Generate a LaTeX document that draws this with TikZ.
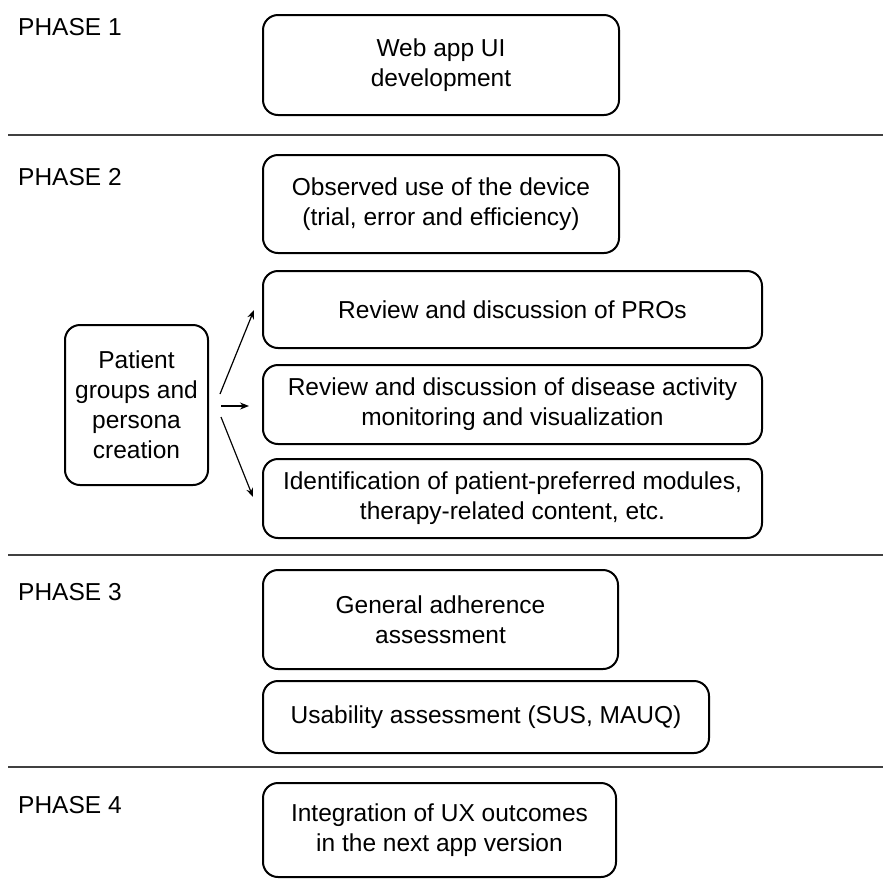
\documentclass[tikz,border=0pt]{standalone}
\usepackage{fontspec}
\setmainfont{Liberation Sans}
\usetikzlibrary{arrows.meta}
\begin{document}
\begin{tikzpicture}[x=1pt,y=-1pt,
  box/.style={draw, line width=2pt, rounded corners=15pt, align=center, inner sep=0pt,
    font=\fontsize{24.5}{30}\selectfont},
  phase/.style={anchor=west, inner sep=0pt, font=\fontsize{24.5}{30}\selectfont},
  sep/.style={line width=1.6pt, draw=black!75},
  arr/.style={line width=1.2pt, -{Stealth[length=9pt,width=7pt]}}]
\useasboundingbox (0,0) rectangle (883,879);
\node[phase] (p1) at (18,27) {PHASE 1};
\node[phase] (p2) at (18,177) {PHASE 2};
\node[phase] (p3) at (18,592) {PHASE 3};
\node[phase] (p4) at (18,805) {PHASE 4};
\coordinate (l1a) at (8,135); \coordinate (l1b) at (883,135);
\coordinate (l2a) at (8,555); \coordinate (l2b) at (883,555);
\coordinate (l3a) at (8,767); \coordinate (l3b) at (883,767);
\draw[sep] (l1a) -- (l1b);
\draw[sep] (l2a) -- (l2b);
\draw[sep] (l3a) -- (l3b);
\node[box, minimum width=356pt, minimum height=100pt] (web) at (441,65) {Web app UI\\development};
\node[box, minimum width=356pt, minimum height=98pt] (obs) at (441,204) {Observed use of the device\\(trial, error and efficiency)};
\node[box, minimum width=499pt, minimum height=77pt] (pro) at (512.5,309.5) {Review and discussion of PROs};
\node[box, minimum width=499pt, minimum height=79pt] (dis) at (512.5,404.5) {Review and discussion of disease activity\\monitoring and visualization};
\node[box, minimum width=499pt, minimum height=79pt] (ide) at (512.5,498.5) {Identification of patient-preferred modules,\\therapy-related content, etc.};
\node[box, minimum width=143pt, minimum height=160pt] (pat) at (136.5,405) {Patient\\groups and\\persona\\creation};
\node[box, minimum width=355pt, minimum height=99pt] (gen) at (440.5,619.5) {General adherence\\assessment};
\node[box, minimum width=446pt, minimum height=72pt] (usa) at (486,717) {Usability assessment (SUS, MAUQ)};
\node[box, minimum width=353pt, minimum height=94pt] (int) at (439.5,830) {Integration of UX outcomes\\in the next app version};
\coordinate (a1s) at (220,394); \coordinate (a1e) at (254,310);
\coordinate (a2s) at (221,406); \coordinate (a2e) at (249,406);
\coordinate (a3s) at (221,417); \coordinate (a3e) at (253,497);
\draw[arr] (a1s) -- (a1e);
\draw[arr] (a2s) -- (a2e);
\draw[arr] (a3s) -- (a3e);
\end{tikzpicture}
\end{document}
